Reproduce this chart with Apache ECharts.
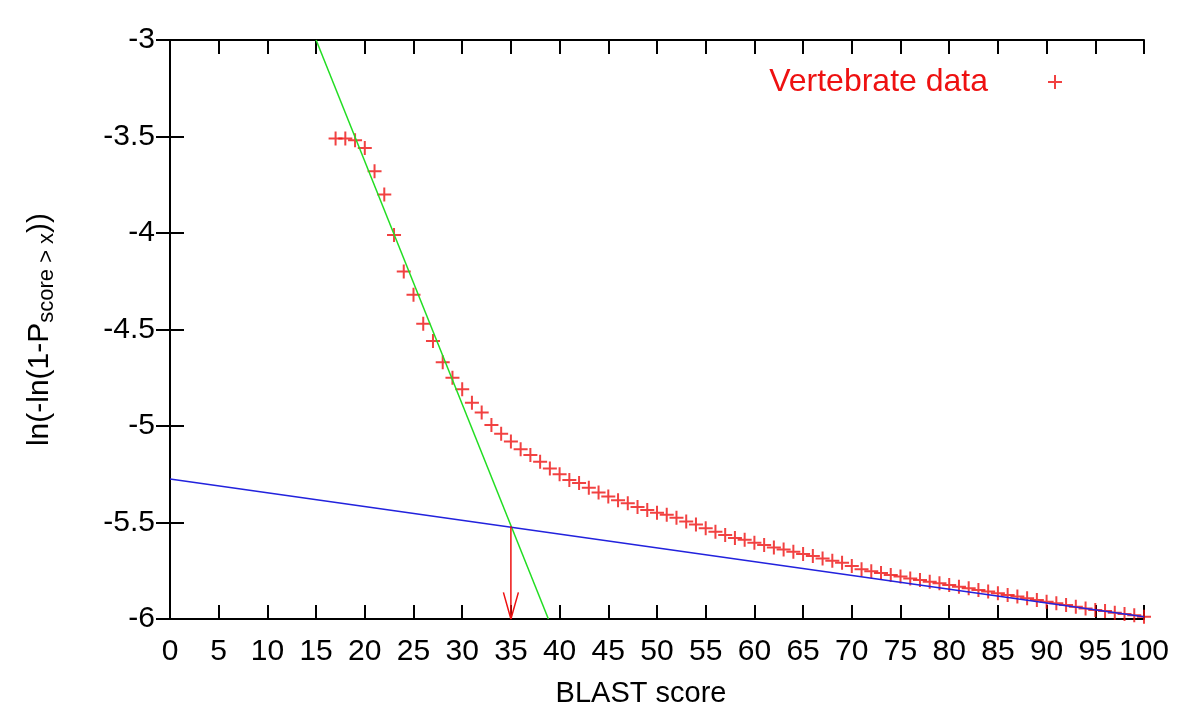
<!DOCTYPE html>
<html>
<head>
<meta charset="utf-8">
<script src="https://cdn.jsdelivr.net/npm/echarts@6/dist/echarts.min.js"></script>
<style>html,body{margin:0;padding:0;background:#fff}#c{width:1200px;height:719px}</style>
</head>
<body>
<div id="c"></div>
<script>
// BLAST scores (x) and observed ln(-ln(1-P)) values
const scores = [17,18,19,20,21,22,23,24,25,26,27,28,29,30,31,32,33,34,35,36,37,38,39,40,41,42,43,44,45,46,47,48,49,50,
  51,52,53,54,55,56,57,58,59,60,61,62,63,64,65,66,67,68,69,70,71,72,73,74,75,76,77,78,79,80,81,82,83,84,85,86,87,88,89,90,
  91,92,93,94,95,96,97,98,99,100];
const vertebrate = [-3.51,-3.51,-3.52,-3.56,-3.68,-3.80,-4.01,-4.20,-4.32,-4.47,-4.56,-4.67,-4.75,-4.81,-4.88,-4.93,-4.995,-5.04,-5.08,-5.12,
  -5.15,-5.185,-5.22,-5.25,-5.28,-5.295,-5.32,-5.345,-5.365,-5.385,-5.40,-5.42,-5.435,-5.45,-5.46,-5.475,-5.495,-5.51,-5.53,-5.548,
  -5.565,-5.58,-5.59,-5.605,-5.617,-5.629,-5.64,-5.651,-5.663,-5.674,-5.686,-5.698,-5.708,-5.725,-5.742,-5.752,-5.762,-5.772,-5.78,-5.79,
  -5.798,-5.807,-5.815,-5.824,-5.833,-5.841,-5.85,-5.858,-5.867,-5.876,-5.884,-5.893,-5.902,-5.91,-5.919,-5.927,-5.936,-5.945,-5.953,-5.959,
  -5.967,-5.974,-5.981,-5.988];
// steep fit (green) and tail fit (blue) line end points
const steepFit = [[15,-3],[38.85,-6]];
const tailFit = [[0,-5.275],[100,-5.988]];
// arrow from intersection down to the x axis
const arrowShaft = [[35,-5.52],[35,-6]];
const arrowHead = [[34.23,-5.862],[35,-6],[35.77,-5.862]];
const xTicks = {min:0, max:100, interval:5};
const yTicks = {min:-6, max:-3, interval:0.5};

const FONT = 'Liberation Sans, Arial, Helvetica, sans-serif';
const plus = 'path://M-1,-7H1V-1H7V1H1V7H-1V1H-7V-1H-1Z';
const chart = echarts.init(document.getElementById('c'));
const axisLine = {show:true, lineStyle:{color:'#000', width:2}};
const tick = {show:true, inside:true, length:14, lineStyle:{color:'#000', width:2}};
chart.setOption({
  backgroundColor:'#fff',
  animation:false,
  grid:{left:170, right:56, top:40, bottom:100},
  legend:{
    data:['Vertebrate data'], right:133, top:61, align:'right',
    itemWidth:14, itemHeight:14,
    textStyle:{color:'#ee1111', fontSize:32, fontFamily:FONT, padding:[0,55,0,0]}
  },
  xAxis:[{
    type:'value', min:xTicks.min, max:xTicks.max, interval:xTicks.interval,
    axisLine, axisTick:tick, splitLine:{show:false},
    axisLabel:{color:'#000', fontSize:30, fontFamily:FONT, margin:18},
    name:'BLAST score', nameLocation:'middle', nameGap:60,
    nameTextStyle:{color:'#000', fontSize:29, fontFamily:FONT, padding:[0,32,0,0]}
  },{
    type:'value', position:'top', min:xTicks.min, max:xTicks.max, interval:xTicks.interval,
    axisLine, axisTick:tick, axisLabel:{show:false}, splitLine:{show:false}
  }],
  yAxis:[{
    type:'value', min:yTicks.min, max:yTicks.max, interval:yTicks.interval,
    axisLine, axisTick:tick, splitLine:{show:false},
    axisLabel:{color:'#000', fontSize:30, fontFamily:FONT, margin:15},
    name:'{a|ln(-ln(1-P}{b|score > x}{a|))}', nameLocation:'middle', nameGap:112, nameRotate:90,
    nameTextStyle:{
      rich:{
        a:{color:'#000', fontSize:30, fontFamily:FONT},
        b:{color:'#000', fontSize:22, fontFamily:FONT, padding:[15,0,0,0]}
      }
    }
  },{
    type:'value', position:'right', min:yTicks.min, max:yTicks.max, interval:yTicks.interval,
    axisLine, axisTick:tick, axisLabel:{show:false}, splitLine:{show:false}
  }],
  series:[
    {name:'Vertebrate data', type:'scatter', symbol:plus, symbolSize:14,
     itemStyle:{color:'#ee1111'}, data:scores.map((s,i)=>[s, vertebrate[i]]), z:2},
    {name:'steep', type:'line', data:steepFit, symbol:'none', lineStyle:{color:'#22dd22', width:1.5}, z:3},
    {name:'tail', type:'line', data:tailFit, symbol:'none', lineStyle:{color:'#2222dd', width:1.5}, z:3},
    {name:'arrowShaft', type:'line', data:arrowShaft, symbol:'none', lineStyle:{color:'#ee1111', width:1.5}, z:4},
    {name:'arrowHead', type:'line', data:arrowHead, symbol:'none', lineStyle:{color:'#ee1111', width:1.5}, z:4}
  ]
});
</script>
</body>
</html>
